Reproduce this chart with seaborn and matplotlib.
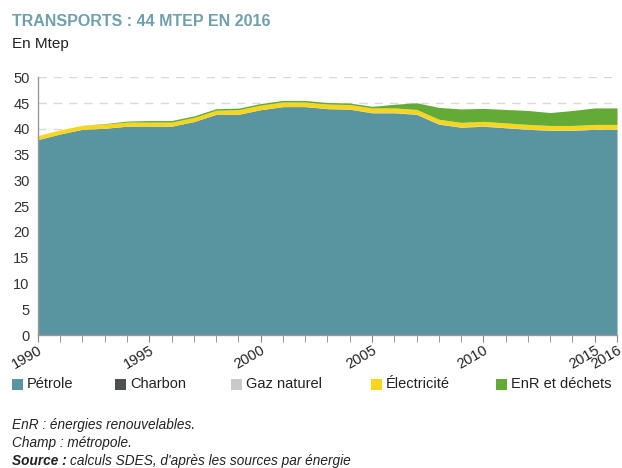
# Transports : consommation d'énergie finale par source (Mtep)

import numpy as np
import matplotlib.pyplot as plt
import seaborn as sns
from matplotlib.patches import Rectangle


# Data
years = list(range(1990, 2017))

petrole = [37.9, 39.0, 39.9, 40.1, 40.5, 40.5, 40.5, 41.4, 42.8, 42.8,
           43.7, 44.3, 44.3, 43.9, 43.8, 43.1, 43.1, 42.8, 40.9, 40.3,
           40.5, 40.2, 39.9, 39.7, 39.7, 39.9, 39.9]
charbon = [0.0] * 27
gaz_naturel = [0.0, 0.0, 0.0, 0.0, 0.0, 0.0, 0.0, 0.0, 0.0, 0.0,
               0.0, 0.0, 0.0, 0.0, 0.0, 0.05, 0.05, 0.05, 0.05, 0.05,
               0.05, 0.05, 0.05, 0.05, 0.05, 0.05, 0.05]
electricite = [0.8, 0.8, 0.8, 0.8, 0.8, 0.8, 0.8, 0.8, 0.8, 0.9,
               0.9, 0.9, 0.9, 0.9, 0.9, 0.9, 0.9, 0.9, 0.9, 0.9,
               0.9, 0.9, 0.9, 0.9, 0.9, 0.9, 0.9]
enr_dechets = [0.0, 0.0, 0.0, 0.1, 0.2, 0.3, 0.3, 0.3, 0.3, 0.3,
               0.3, 0.3, 0.3, 0.3, 0.3, 0.3, 0.7, 1.3, 2.3, 2.6,
               2.5, 2.6, 2.7, 2.5, 2.9, 3.2, 3.2]

labels = ["Pétrole", "Charbon", "Gaz naturel", "Électricité", "EnR et déchets"]
colors = ["#5895a0", "#4d4f50", "#c9c9cd", "#fad51e", "#63aa37"]

tick_years = [1990, 1995, 2000, 2005, 2010, 2015, 2016]


# Style
sns.set_style("white")
plt.rcParams["font.family"] = ["Liberation Sans", "DejaVu Sans"]

fig = plt.figure(figsize=(6.22, 4.68), dpi=100)
ax = fig.add_axes([0.061, 0.284, 0.931, 0.551])

# grid behind the areas
for v in range(5, 55, 5):
    ax.axhline(v, color="#d9d9d9", lw=1, ls=(0, (6, 5)), zorder=0)

ax.stackplot(years, petrole, charbon, gaz_naturel, electricite, enr_dechets,
             colors=colors, linewidth=0, zorder=2)

ax.set_xlim(1990, 2016)
ax.set_ylim(0, 50)
ax.set_yticks(range(0, 55, 5))
ax.set_xticks(years, minor=True)
ax.set_xticks(tick_years)
ax.set_xticklabels([str(y) for y in tick_years], rotation=30,
                   ha="right", rotation_mode="anchor")

ax.tick_params(axis="both", labelsize=10.5, colors="#333333")
ax.tick_params(axis="y", length=4, color="#888888", pad=2)
ax.tick_params(axis="x", which="both", length=5, color="#888888",
               direction="out", bottom=True, pad=1)
ax.tick_params(axis="x", which="major", labelcolor="#222222")

for side in ["top", "right"]:
    ax.spines[side].set_visible(False)
for side in ["left", "bottom"]:
    ax.spines[side].set_color("#999999")
    ax.spines[side].set_linewidth(1)

# Legend (placed item by item, like the original)
leg_x = [12, 115, 231, 371, 496]
leg_y = 384
W, H = 622, 468
for x, lab, col in zip(leg_x, labels, colors):
    fig.patches.append(Rectangle((x / W, (H - leg_y - 6) / H), 11 / W, 11 / H,
                                 facecolor=col, edgecolor="none",
                                 transform=fig.transFigure, figure=fig))
    fig.text((x + 15) / W, (H - leg_y) / H, lab, fontsize=10.5,
             color="#222222", va="center")

# Titles
fig.text(0.019, 0.955, "TRANSPORTS : 44 MTEP EN 2016", fontsize=11.5,
         fontweight="bold", color="#6fa0ab", va="center")
fig.text(0.019, 0.905, "En Mtep", fontsize=11, color="#222222", va="center")

# Notes
fig.text(0.019, 0.091, "EnR : énergies renouvelables.", fontsize=9.8,
         style="italic", color="#222222", va="center")
fig.text(0.019, 0.053, "Champ : métropole.", fontsize=9.8,
         style="italic", color="#222222", va="center")
src = fig.text(0.019, 0.015, "Source :", fontsize=9.8, style="italic",
               fontweight="bold", color="#222222", va="center")
fig.canvas.draw()
bb = src.get_window_extent().transformed(fig.transFigure.inverted())
fig.text(bb.x1 + 0.006, 0.015, "calculs SDES, d'après les sources par énergie",
         fontsize=9.8, style="italic", color="#222222", va="center")

plt.savefig("out.png", dpi=100)
